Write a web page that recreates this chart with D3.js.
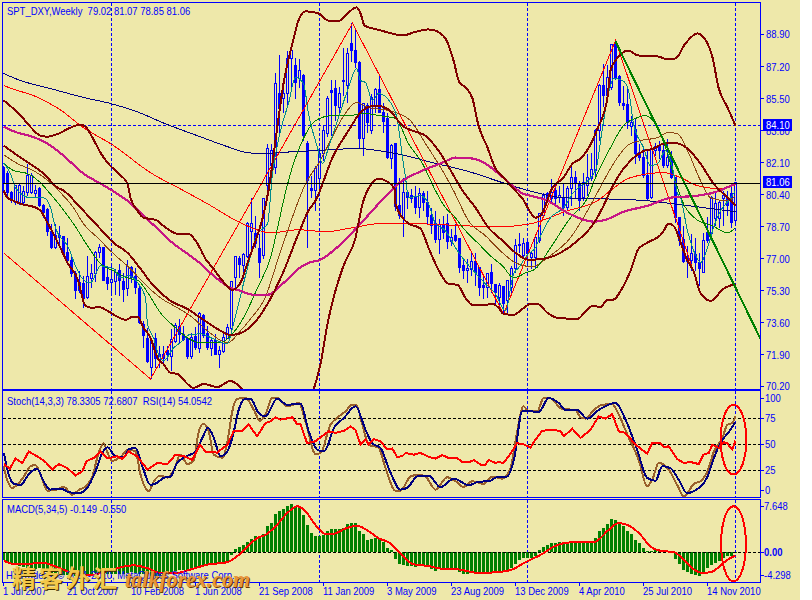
<!DOCTYPE html>
<html><head><meta charset="utf-8">
<script src="https://d3js.org/d3.v7.min.js"></script>
<style>
html,body{margin:0;padding:0;background:#fff;overflow:hidden}
svg{display:block}
.crisp *{shape-rendering:crispEdges}
text{font-family:"Liberation Sans",Arial,sans-serif;font-size:11px;fill:#0000ff;white-space:pre}
</style></head><body>
<script>
const highs=[81.94,81.68,80.62,80.93,80.99,80.88,82.05,81.57,80.93,80.83,
79.92,79.71,78.86,78.86,78.75,78.22,78.12,77.27,76.36,76.36,
76.10,77.16,76.74,77.43,77.80,77.59,76.62,76.62,76.47,76.74,
76.25,76.95,76.62,76.52,75.67,73.71,73.34,72.81,73.07,72.38,
72.38,72.38,73.28,73.60,73.81,73.44,72.81,73.07,73.39,74.19,
74.08,73.44,72.75,73.02,72.38,73.02,73.55,75.83,77.16,77.16,
77.32,78.96,80.24,79.28,78.33,80.24,83.11,83.11,86.88,87.79,
86.19,88.05,88.43,87.63,87.58,86.78,83.27,81.41,81.94,82.85,
84.07,85.66,86.46,86.46,86.09,88.16,88.21,89.49,89.22,87.52,
85.29,85.24,85.77,86.04,86.78,85.24,84.71,83.11,83.16,81.31,
81.31,80.62,80.72,80.88,80.78,80.62,80.62,79.71,79.55,79.13,
79.28,79.39,78.60,78.86,78.07,77.00,77.00,77.32,77.32,76.58,
76.10,76.25,76.74,75.67,75.72,75.57,75.88,76.62,78.07,78.38,
78.12,77.96,77.38,78.22,79.44,80.51,80.57,81.25,81.04,80.88,
80.99,80.88,82.05,81.68,81.15,81.57,82.58,82.63,83.91,86.30,
87.36,87.26,88.37,88.58,86.73,86.19,86.04,84.60,84.44,83.11,
82.85,82.74,82.90,83.16,83.27,83.16,83.38,82.74,81.31,79.23,
78.75,77.69,78.33,78.12,77.32,78.38,79.23,80.35,80.62,80.08,
80.62,80.62,80.99,81.07];
const lows=[80.62,80.25,79.97,79.87,79.87,79.87,80.35,80.46,80.30,79.76,
79.18,78.22,77.53,77.53,77.59,77.27,76.90,76.04,74.88,75.19,
74.40,74.88,75.46,75.78,77.06,75.83,75.35,75.14,75.09,75.03,
74.72,75.03,75.72,75.14,73.55,72.27,71.47,70.63,71.21,71.21,
71.42,71.58,71.05,72.54,72.54,72.65,71.69,71.69,72.17,72.00,
72.81,72.17,71.84,71.95,71.21,72.00,72.75,73.18,75.46,75.99,
75.94,77.06,77.32,77.59,75.99,77.00,80.24,81.15,81.52,83.64,
84.71,85.03,86.09,85.50,86.04,83.27,77.59,80.24,79.55,80.62,
82.21,83.48,83.53,84.33,84.60,85.66,85.29,87.42,87.10,82.85,
82.47,83.69,83.64,84.71,84.71,83.69,82.32,81.78,79.55,79.13,
78.17,79.65,79.97,79.39,79.18,79.55,78.86,78.33,77.85,77.27,
78.07,77.53,77.69,77.90,76.25,75.94,75.72,76.10,75.57,75.03,
74.88,74.93,75.19,74.61,74.40,74.08,74.13,75.14,76.25,77.32,
77.00,76.74,76.47,76.52,77.85,79.23,80.08,80.03,79.81,79.97,
79.28,79.55,79.81,80.19,79.55,80.08,80.35,81.15,81.41,83.27,
85.03,85.40,85.93,86.46,85.13,84.87,83.91,83.53,82.05,82.21,
81.31,80.08,80.19,82.47,82.32,81.84,81.84,81.25,78.91,77.69,
76.79,75.99,76.36,76.36,75.57,76.25,77.85,78.07,78.75,78.65,
78.75,79.28,78.65,78.85];
const opens=[81.84,81.52,80.51,79.97,79.97,79.97,80.51,80.51,80.46,80.72,
79.81,79.60,78.44,77.59,78.22,78.17,77.32,76.90,76.20,75.30,
75.67,74.93,75.94,76.20,77.32,77.59,75.99,75.72,75.78,76.36,
75.78,75.41,76.52,76.04,75.41,73.50,72.75,71.21,72.75,71.64,
71.90,72.11,71.84,72.59,73.39,72.96,72.75,71.84,72.86,72.22,
73.97,73.02,72.22,72.65,71.95,72.06,72.75,73.28,75.99,77.00,
76.62,77.11,78.44,78.33,77.53,77.16,80.88,81.94,81.84,85.77,
85.50,85.77,87.63,87.26,86.56,86.73,83.11,80.72,80.62,81.25,
82.58,83.64,85.93,86.04,85.03,86.40,86.19,88.43,88.05,87.42,
83.38,85.13,83.80,85.13,85.98,84.76,84.44,82.32,83.11,79.81,
79.13,80.51,80.35,80.24,79.71,80.46,79.97,79.28,78.86,78.01,
78.75,78.86,77.90,78.22,78.07,76.62,76.39,76.41,76.84,76.52,
75.57,75.46,76.25,75.62,74.93,75.51,74.77,75.46,76.47,77.69,
77.16,77.85,77.06,77.06,77.96,79.28,80.46,80.19,80.62,80.24,
80.24,79.71,80.72,81.31,80.99,80.24,80.88,81.25,81.68,83.80,
86.19,85.66,86.09,88.43,86.67,85.24,85.18,84.01,83.85,82.63,
82.37,81.41,80.24,82.74,83.01,82.74,81.94,82.37,81.31,79.18,
78.01,76.84,76.90,77.21,76.79,76.25,78.38,78.33,79.13,79.13,
80.19,80.24,80.46,79.02];
const closes=[80.99,80.51,80.08,80.88,80.88,80.57,81.41,81.41,80.62,79.81,
79.44,78.44,77.59,78.22,78.12,77.27,76.90,76.20,75.30,75.72,
74.88,76.04,76.20,77.32,77.59,75.83,75.67,75.88,76.25,75.83,
75.35,76.58,75.99,75.46,73.60,72.91,71.53,72.65,71.69,71.95,
71.69,71.90,72.70,73.44,72.96,72.70,71.84,72.81,72.27,74.08,
72.91,72.27,72.65,71.95,72.11,72.81,73.34,75.78,77.11,76.68,
77.21,78.86,78.86,77.80,76.79,80.19,82.85,82.74,86.30,84.97,
85.77,87.63,88.05,86.35,86.99,83.53,81.15,80.62,81.78,82.58,
83.80,85.50,85.82,85.13,85.77,86.46,87.89,88.05,87.42,83.38,
85.24,84.23,85.56,85.98,84.76,84.28,82.37,83.01,79.76,79.28,
80.51,80.24,80.19,79.71,80.46,79.97,79.23,78.75,78.01,78.81,
78.38,77.90,78.12,77.96,76.52,76.36,76.47,76.84,76.25,75.46,
75.46,76.20,75.67,75.19,75.57,74.61,75.83,76.47,77.69,77.75,
77.80,77.27,77.27,78.12,79.39,80.35,80.19,80.51,80.19,80.35,
79.71,80.72,81.31,81.04,80.08,81.04,81.31,81.73,83.80,86.19,
85.66,86.62,88.37,86.62,85.29,85.13,84.23,84.23,82.58,82.37,
81.41,80.19,82.85,82.95,82.74,81.94,82.37,81.31,79.18,77.96,
76.84,77.00,77.27,76.79,76.47,77.96,77.96,80.24,79.92,79.97,
80.35,79.81,78.91,81.06];

const bandUpper=[[0,85.40],[1,85.24],[4.75,84.49],[6.25,84.12],[9.25,83.53],[11,83.48],[13.75,83.64],[16.75,83.96],[19.25,84.12],[20.5,84.01],[22.25,83.43],[24.25,82.63],[26,82.10],[28.75,81.52],[31,80.99],[31.75,80.24],[33.5,79.55],[35,79.18],[38,79.07],[40,78.75],[43.5,78.33],[46.25,78.33],[48.5,77.80],[50.5,77.00],[52.5,76.47],[54.75,75.83],[57.25,75.35],[59.25,75.73],[61,76.79],[63,77.96],[64.75,79.13],[66.25,80.62],[68.5,84.07],[70,86.30],[72.25,88.43],[73.75,89.65],[75.5,90.13],[78.75,90.02],[81,89.65],[83.5,89.59],[86.25,90.07],[88.25,90.34],[89.25,90.02],[90.25,89.38],[92.25,89.22],[94.25,89.12],[96,89.01],[100,88.85],[102.5,89.01],[106.25,89.17],[108.5,89.06],[111,88.48],[112.5,87.52],[114,86.35],[115.5,86.09],[117.25,85.50],[118.75,84.07],[121,82.90],[123,81.78],[125,81.31],[127.25,80.78],[129.75,80.19],[133,79.18],[134.25,79.29],[137.25,80.78],[140,81.31],[142.25,82.05],[144.25,82.32],[147.25,83.27],[148.5,83.91],[151,85.56],[151.75,86.99],[153,87.52],[156.25,88.05],[158.5,87.79],[163.75,87.73],[166,87.58],[168,87.63],[170.5,88.43],[173.5,88.96],[174.25,88.90],[177.25,87.68],[178.75,86.09],[181,85.03],[183,84.07]];
const bandMiddle=[[0,83.01],[4.25,82.37],[10,81.52],[13.5,80.78],[15,80.62],[19.25,79.71],[23.5,78.75],[27.5,77.85],[31,77.32],[34.25,76.47],[37.5,75.57],[41.75,74.77],[46,74.34],[49.25,73.87],[53.5,73.28],[56.75,72.96],[58.75,73.02],[62.5,73.55],[66,74.61],[69.75,76.20],[73.75,78.33],[76.25,79.55],[78,80.08],[82.25,82.37],[86.25,83.80],[89.75,84.87],[93,85.13],[96.25,84.92],[100,84.01],[102.25,83.80],[105.5,83.53],[108.75,82.74],[112.25,81.52],[114.75,80.62],[118,79.71],[121.25,78.65],[124.75,77.96],[128,77.32],[131.25,76.95],[135,77.00],[139.25,77.32],[143.5,77.96],[147.5,78.86],[150,79.81],[151.75,80.62],[153.5,81.31],[156.75,82.21],[159.75,82.69],[162.5,82.85],[165,83.11],[167.5,83.16],[171,82.85],[174.25,82.05],[177.5,80.99],[181,80.24],[183,79.81]];
const bandLower=[[0,80.62],[1,80.24],[2.5,80.08],[5,79.87],[7.5,79.76],[9.25,79.55],[11,78.91],[13.75,77.80],[16,76.79],[18.5,75.94],[20.5,74.50],[22.25,74.40],[23.75,74.45],[26,74.24],[28.5,73.92],[30.5,73.76],[32.25,73.92],[33.5,73.92],[35,73.34],[36.75,72.81],[38.5,71.74],[40,71.42],[41.75,70.95],[43.5,70.89],[46,70.36],[47.5,70.15],[50,70.36],[53.5,70.20],[56.75,70.52],[59.75,70.09],[61.75,69.72],[74.25,67.86],[77.5,70.04],[79.25,71.42],[81,73.55],[82.5,74.93],[85,76.63],[88,78.12],[89.75,79.92],[92.25,81.04],[93.75,81.25],[95.5,81.15],[97.75,80.72],[98,79.92],[101,78.91],[104.25,78.60],[106.25,77.59],[108.5,76.52],[111.25,75.67],[113.5,75.62],[115.5,74.93],[117.25,74.56],[120.5,74.56],[122.25,74.61],[123.75,74.40],[125,74.08],[127.5,74.03],[129.75,74.34],[131.75,74.61],[133.5,74.61],[136,74.13],[138.5,73.87],[143.5,73.81],[145,74.08],[147.25,74.50],[149.25,74.45],[151,74.82],[152.25,74.82],[155,75.57],[156.75,76.36],[158.75,77.53],[160.5,77.80],[164.75,78.38],[166.25,78.86],[167.5,78.75],[169.75,77.59],[171,76.90],[172.5,76.36],[174.25,75.19],[176.75,74.77],[180,75.41],[183,75.67]];
const maMagenta=[[0,84.01],[3.5,83.69],[7.25,83.48],[11,83.11],[15,82.47],[20,81.52],[24.25,80.99],[28,80.51],[31,80.08],[35,79.29],[38.5,78.60],[42.5,77.80],[46,77.27],[49.25,76.74],[52.5,76.10],[56.75,75.46],[59.25,75.30],[62.5,75.09],[66,75.09],[69.75,75.67],[73.75,76.47],[76.25,76.79],[79.25,76.95],[83,77.53],[88.75,78.75],[94.75,80.14],[98.75,80.99],[104.75,81.68],[109.75,82.10],[113,82.37],[117.25,82.32],[120.5,82.05],[123.75,81.52],[127.25,80.88],[129.75,80.46],[131.75,80.35],[136,80.08],[141,79.44],[147.5,78.97],[150.5,79.07],[155,79.50],[161,79.81],[166.75,80.24],[173.5,80.35],[177.5,80.51],[183,80.99]];
const maNavy=[[0,86.83],[4.25,86.46],[11.75,86.03],[20,85.56],[26.75,85.24],[32.5,84.87],[41,84.12],[48.5,83.53],[56,82.95],[61,82.63],[66,82.58],[68.75,82.63],[78,82.74],[88.75,82.85],[93.75,82.74],[100.5,82.47],[107.25,82.10],[115.5,81.68],[125.5,80.99],[132.25,80.56],[140,80.24],[148.5,80.19],[161,80.08],[169.25,79.87],[183,79.50]];
const maRed=[[0,86.19],[3.5,85.93],[7.5,85.66],[13.75,84.97],[20,83.96],[27.5,83.01],[36.75,81.57],[45,80.62],[51,79.92],[59.25,78.91],[66.75,78.38],[73.75,78.54],[80.5,78.44],[87.25,78.65],[93.75,78.86],[103,78.86],[115.5,78.75],[123.75,78.70],[131.75,78.86],[141,79.55],[148.5,80.08],[151.75,80.62],[156.75,81.31],[165,81.57],[169.25,81.31],[173.5,80.88],[179.25,80.72],[183,80.93]];
const zigzag=[[0,77.32],[36.75,70.63],[87.25,89.49],[125,74.08],[153,88.58],[173.75,75.57]];
const maTeal=[[0,82.10],[1.75,81.52],[3,80.77],[6.75,80.24],[10,80.24],[11.75,79.71],[13,78.65],[16.25,77.59],[18,76.63],[19.75,75.94],[21.75,75.73],[24.25,76.63],[27.5,76.47],[29.25,75.99],[31.25,76.10],[33.75,75.67],[35.5,74.93],[36,73.55],[37.5,72.81],[38.75,71.95],[40,71.58],[42.5,72.27],[44.75,72.65],[46.25,72.96],[49.25,73.02],[52.5,72.75],[56,72.49],[57.25,73.34],[58.75,74.61],[61,76.52],[63.5,78.33],[66,78.86],[67.25,81.52],[69.25,83.80],[71.25,85.24],[73,86.62],[75,86.30],[76.25,84.71],[78.5,82.90],[79.75,82.05],[81.25,82.90],[83.5,84.33],[86,85.93],[88.25,87.10],[89.25,86.46],[90.5,86.35],[92.25,85.40],[93.75,85.77],[96.75,85.29],[98.5,84.33],[99.75,82.37],[100.5,81.31],[101.25,80.24],[104.25,80.35],[106.25,79.92],[108,78.86],[110.5,78.49],[113,77.59],[114.75,77.06],[117.5,76.36],[120.5,75.67],[123,75.14],[125.5,74.24],[127.5,76.20],[128.75,76.52],[131.25,77.27],[133,77.59],[133.75,77.96],[136.75,79.18],[140,79.71],[142.25,80.46],[148,81.68],[149.75,83.96],[151.25,85.77],[152.5,86.57],[154.75,86.46],[156.25,85.93],[157.5,84.17],[160,82.90],[161.75,81.94],[163.5,82.05],[165.5,82.74],[167.25,81.84],[168.5,80.46],[169.25,80.24],[171,78.49],[173.5,77.00],[174.25,76.79],[176,77.59],[177.5,78.65],[179.25,79.55],[181.25,80.08],[183,80.62]];
const maGreen=[[0,82.10],[2.5,81.68],[6,81.52],[9.25,81.04],[11,80.62],[14.75,79.66],[17.5,78.86],[21,77.69],[24.25,76.74],[27.5,76.36],[31,75.99],[33.75,75.83],[36.25,75.14],[39.25,74.13],[42.5,73.44],[46,72.81],[49.25,72.54],[54.25,72.54],[56.75,72.91],[60,73.87],[63.5,75.46],[66.75,77.06],[68.75,78.86],[70,80.08],[72.5,82.05],[74.75,83.27],[78,84.33],[82.25,84.60],[86.25,84.60],[90.5,84.71],[93.75,84.60],[98,84.44],[101.25,83.11],[104.75,82.05],[108,80.62],[110.5,79.71],[112.5,79.29],[115.5,78.49],[118.75,77.80],[122.25,77.06],[124.75,76.63],[127.5,75.99],[130.5,76.25],[133,76.47],[136.75,77.59],[141.75,79.18],[146,80.24],[148,81.31],[151.75,82.90],[155,84.07],[158.5,84.49],[160.5,84.60],[163.5,83.96],[166,82.58],[168.5,80.78],[170,79.92],[173,79.13],[177.25,78.75],[181,78.38],[183,78.65]];
const maBrown=[[0,82.53],[3.5,82.05],[7.5,81.68],[11.75,81.04],[13.75,80.62],[17.5,79.71],[20,78.86],[23.5,78.12],[27.5,77.27],[31.75,76.47],[35,75.73],[39.25,74.93],[43.5,74.40],[46.75,73.97],[51,73.18],[56,72.54],[59.25,73.18],[61.75,73.81],[65.5,74.98],[68.75,77.06],[73.75,80.08],[75.5,80.99],[78.75,82.05],[81.75,83.27],[84.75,84.49],[88.25,85.29],[91.25,85.03],[96.25,84.87],[98.75,84.71],[101.75,84.33],[105.5,83.11],[109.75,81.68],[112.5,80.62],[116.25,79.02],[120.5,78.22],[124.75,77.32],[128,76.79],[132.25,76.58],[136,77.06],[141.75,78.12],[146,79.55],[148.75,80.62],[152.5,82.05],[156,83.01],[159.25,83.27],[163.5,83.43],[166.25,83.70],[168.5,83.64],[171,82.74],[174.25,81.15],[176.75,80.24],[181,80.08],[183,80.35]];
const trendLine=[[153,88.53],[189.25,72.75]];

const stochSignal=[[0,29],[0.9,16],[2.2,8],[3.4,11],[5.1,19],[6.75,29],[8,30],[9.25,21],[11,5.5],[13,6],[15.1,9],[17.2,1.5],[18.8,6],[20.5,9.5],[22.2,19],[23.8,42],[25,51],[25.9,43],[27.2,34],[29.3,38],[31.3,45],[33,43],[34.25,21],[36.3,5],[37.6,14.5],[39.25,20],[41,18],[42.6,25.5],[44.25,40],[46,31],[47.6,35],[48.8,62],[50,70],[51.3,62],[52.6,40],[54.7,37],[56,53],[57.2,81.7],[58.4,93.8],[60.5,94.5],[62.6,83],[64.1,72.7],[65.5,78.5],[67.2,95],[68.4,95],[70.9,86.5],[73.8,89.7],[75.5,72],[78,40.7],[79.25,41.7],[81.75,69],[83.4,75.3],[85.5,81.7],[87.2,88],[88.2,88],[89.7,69],[91.3,49.7],[93.8,46.5],[95.5,27],[98,5.5],[99.25,5.5],[101.75,19],[103.8,20.9],[105.5,19],[108,6.5],[110.9,18.3],[113,14.5],[115,9],[117.2,14.5],[120,12],[122.2,19],[124.7,17],[126.75,27],[128.4,62],[130,86.5],[131.3,81.7],[133.4,81.7],[135.1,95],[136.3,95],[139.7,84],[143,83],[144.25,76],[145.5,74.7],[147.2,81],[149.25,87.5],[152.2,88.7],[153.4,81.7],[156,59],[158.8,35],[160.9,9.7],[162.2,16],[163.8,32],[166.3,25.7],[168.4,11],[170.1,0],[172.6,12],[174.25,14.5],[176,24],[177.6,43],[179.7,56],[181,68.9],[182.2,70.5],[183,76.9]];
const stochMain=[[0.1,41.7],[1.3,21],[2.6,12],[4.25,11],[6.3,21],[8.4,26.6],[10,14.5],[11.75,6.5],[14.25,7.5],[16.3,4],[18.8,3],[20.9,8],[23,24],[24.7,41.7],[26,47],[28,38.5],[30,37.5],[31.3,45],[33,46.5],[34.7,28.9],[36.75,11],[38.4,13],[40,17.7],[41.75,19],[43.4,32],[45.5,38],[48,43],[49.7,56],[51.1,66],[52.6,56],[54.25,38.5],[55.9,43],[57.2,56],[58.8,83],[60,92.9],[61.75,93.9],[63.8,80],[65.5,76.9],[68.4,93.9],[70.9,88],[74.25,89],[76.3,62.5],[78.8,44],[80.3,44],[82.6,65.7],[85.1,75.3],[88,86.5],[90.5,64],[92.2,51],[94.25,46.5],[96.3,27],[99.25,6.5],[100.9,8],[103.4,19],[106.3,20],[109.25,8.7],[112.6,17],[116.3,10.7],[118.8,14],[121.3,14.5],[123.8,19],[125.9,19],[127.6,35],[129.7,81.7],[131.3,82],[133.8,81],[136.3,94.5],[138.8,89.7],[140.5,83],[143.4,83],[145.9,74.7],[148.8,83],[153,89.7],[155.5,73.7],[158.4,45],[160.9,17.7],[163,15],[164.7,29],[166.75,27],[168.8,16],[170.9,3],[172.6,5],[176,19],[177.6,37],[179.25,51.3],[181.75,64],[183,71.5]];
const rsi=[[0.1,31],[1.6,26.6],[3,36.3],[4.7,32],[6.3,43],[8.4,38.5],[10.5,33],[12.2,25.7],[13.8,31],[16,27],[18,20],[19.7,24],[20.75,33.7],[22.6,37],[24.25,43],[25.9,36.3],[28.4,38.5],[29.7,36],[31.3,43],[33.4,38.5],[36,25.7],[38.4,32],[41,31],[43,40],[45.1,38.5],[47.2,35],[49.1,49.7],[50.5,43],[53.4,42],[56,49.7],[57.6,63],[59.7,63],[61.3,69],[63.4,57.7],[65.5,70.5],[66.75,72],[68,75.9],[69.25,73.7],[72.2,75.9],[73.4,69.5],[74.25,69.5],[75.9,51],[78,52.9],[81.3,62.5],[83,60.9],[85.1,63],[86.75,67],[88,64],[89.25,49.7],[90.5,54.5],[91.3,49.7],[92.6,55],[94.25,52.9],[95.9,45],[97.2,46],[98.4,37.9],[99.7,38.5],[100.5,41.7],[102.6,40],[104.25,41.7],[106.3,37.9],[108,36.3],[109.7,39.5],[111.3,36.9],[113.4,36.9],[114.7,32.7],[116.3,32.7],[117.6,34.7],[119.25,30.5],[120.5,30.5],[121.3,35],[123,32],[123.8,33],[125,32],[126.3,38.5],[128.4,51],[130,50],[131.75,47],[133,54.5],[134.7,63],[137.6,64],[139.25,62.5],[140.1,57.7],[142.2,65],[144.25,56],[146.75,64],[148.8,76.9],[150.5,74.7],[152.2,79],[153.8,62.5],[155.5,60.9],[158,49.7],[160.9,41],[162.2,51.3],[164.25,51],[165,47.5],[166.3,48],[168.4,36],[170.1,32],[171.75,33],[173.8,31],[175,40],[176.3,41.7],[177.2,49.7],[178.8,46.5],[180,52],[180.9,51],[182.2,45],[183,53.5]];

const macdHist=[-1.2,-1.4,-1.5,-1.8,-2,-2.2,-2.3,-2.4,-2.4,-2.3,
-2.5,-2.6,-3,-3.2,-3.2,-3.3,-3.3,-3.3,-3.4,-3.3,
-3.2,-3.2,-3.1,-3,-3,-3.1,-3.2,-3.2,-3.2,-3.1,
-3.2,-3,-2.9,-3,-3.1,-3.1,-3.2,-3.4,-3.5,-3.5,
-3.3,-3.1,-2.9,-2.7,-2.6,-2.6,-2.5,-2.4,-2.2,-2.1,
-2,-1.9,-1.8,-1.7,-1.6,-1.6,-1.6,-.4,.5,.7,
1,1.5,1.9,2.3,2.2,2.6,3.7,4.2,5.5,5.9,
6.2,6.6,6.9,6.6,6.4,5.4,3.9,2.7,2.3,2.3,
2.4,3,3.3,3.3,3.4,3.5,4,4.2,4.2,3,
2.6,1.8,1.9,2,2,1.5,.6,.25,-1,-1.7,
-1.8,-2,-2,-2.2,-1.8,-2,-2.2,-2.4,-2.7,-2.4,
-2.5,-2.4,-2.5,-2.6,-2.8,-3.1,-3.1,-2.9,-2.9,-3,
-3.2,-3,-2.9,-2.9,-2.8,-2.9,-2.7,-2.3,-1.7,-1.2,
-.9,-.8,-.8,-.6,.3,.8,1.05,1.3,1.3,1.45,
1.4,1.45,1.55,1.55,1.55,1.55,1.55,1.55,2,3.1,
3.45,4,4.75,4.65,4.2,3.7,3.1,2.6,1.8,1.3,
.6,.1,.1,.3,.2,.2,.1,0,-1,-1.7,
-2.5,-2.9,-3.2,-3.3,-3.4,-3,-2.3,-1.8,-1.6,-1.3,
-.8,-.6,-.5,-.15];
const macdSignal=[[0.1,-1.25],[2.6,-1.7],[6,-1.7],[9.7,-1.5],[13,-2.06],[17.2,-3],[21.3,-3.36],[25,-2.88],[28.4,-2.3],[32.6,-1.9],[36,-2.3],[39.25,-3],[43.4,-3],[46.75,-2.5],[51,-1.8],[56,-1.44],[58.8,-.4],[60.9,.8],[63.4,2],[65.5,2.5],[68,3.7],[70.9,5.6],[73.4,6.6],[75.5,5.9],[78,3.9],[80.5,2.6],[82.2,2.6],[85.5,3.4],[88.4,3.8],[91.3,3],[93.8,2],[96.3,1.4],[99.7,-.4],[102.2,-1.7],[106.3,-2],[109.7,-2.4],[113.8,-2.5],[118.8,-3],[123,-2.9],[127.2,-2.5],[129.7,-1.7],[131.75,-1.1],[134.25,-.4],[137.6,.8],[141.75,1.4],[147.6,1.44],[151.3,3.2],[153.8,4.2],[156.75,3.7],[159.25,2.5],[161.75,.8],[164.25,.2],[167.6,0],[170.1,-1.1],[172.6,-2.5],[174.7,-3],[177.2,-2.8],[179.7,-1.7],[181.3,-1],[183,-.5]];

const priceTicks=[88.90,87.20,85.50,83.80,82.10,80.40,78.70,77.00,75.30,73.60,71.90,70.20];
const priceMarks=[84.10,81.06];
const stochTicks=[100,75,50,25,0];
const macdTicks=[7.648,0,-4.298];
const dateIdx=[0,16,32,48,64,80,96,112,128,144,160,176];
const dateLabels=["1 Jul 2007","21 Oct 2007","10 Feb 2008","1 Jun 2008","21 Sep 2008","11 Jan 2009","3 May 2009","23 Aug 2009","13 Dec 2009","4 Apr 2010","25 Jul 2010","14 Nov 2010"];
const gridIdx=[27,79,131,183];
const titleText="SPT_DXY,Weekly  79.02 81.07 78.85 81.06";
const stochText="Stoch(14,3,3) 78.3305 72.6807  RSI(14) 54.0542";
const macdText="MACD(5,34,5) -0.149 -0.550";
const copyright="HYTrader4, © 2001-2010, MetaQuotes Software Corp.";

const W=812,H=600,L=2.5,R=760.5,BLUE="#0000ff",BG="#EEE8AA";
const P={main:[2.5,389.5],stoch:[390.5,497.5],macd:[499.5,582.5]};
const x=d3.scaleLinear().domain([0,183]).range([3.5,735.5]);
const yP=d3.scaleLinear().domain([88.9,70.2]).range([34.5,387]);
const yS=d3.scaleLinear().domain([100,0]).range([392.3,496.3]);
const yM=d3.scaleLinear().domain([7.648,-4.298]).range([499,582]);
const snap=v=>Math.floor(v)+.5;

const svg=d3.select("body").append("svg").attr("width",W).attr("height",H).attr("viewBox",`0 0 ${W} ${H}`);
svg.append("rect").attr("width",800).attr("height",H).attr("fill",BG);
const defs=svg.append("defs");
Object.entries(P).forEach(([k,[a,b]])=>{
  defs.append("clipPath").attr("id","c-"+k).append("rect").attr("x",L).attr("y",a).attr("width",R-L).attr("height",b-a);
});
const g=svg.append("g").attr("class","crisp");

Object.entries(P).forEach(([k,[a,b]])=>{
  g.append("g").selectAll("line").data(gridIdx).join("line")
   .attr("x1",d=>x(d)).attr("x2",d=>x(d)).attr("y1",a).attr("y2",b)
   .attr("stroke",BLUE).attr("stroke-dasharray","3,2");
});

const main=g.append("g").attr("clip-path","url(#c-main)");
main.append("line").attr("x1",L).attr("x2",R).attr("y1",snap(yP(84.10)+.8)).attr("y2",snap(yP(84.10)+.8)).attr("stroke",BLUE).attr("stroke-dasharray","3,2");
const bars=d3.range(opens.length);
main.append("g").selectAll("line").data(bars).join("line")
  .attr("x1",i=>x(i)).attr("x2",i=>x(i)).attr("y1",i=>yP(highs[i])).attr("y2",i=>yP(lows[i])).attr("stroke",BLUE);
main.append("g").selectAll("rect").data(bars).join("rect")
  .attr("x",i=>x(i)-1).attr("width",2)
  .attr("y",i=>yP(Math.max(opens[i],closes[i])))
  .attr("height",i=>Math.max(.6,Math.abs(yP(opens[i])-yP(closes[i]))))
  .attr("fill",i=>closes[i]>=opens[i]?BG:BLUE).attr("stroke",BLUE);
const lineP=d3.line().x(d=>x(d[0])).y(d=>yP(d[1])).curve(d3.curveMonotoneX);
const lineStraight=d3.line().x(d=>x(d[0])).y(d=>yP(d[1]));
const drawP=(data,color,w,gen=lineP)=>main.append("path").attr("d",gen(data)).attr("fill","none").attr("stroke",color).attr("stroke-width",w);
drawP(maNavy,"#000080",1);
drawP(maRed,"#ff0000",1);
drawP(zigzag,"#ff0000",1,lineStraight);
drawP(maBrown,"#8B4513",1);
drawP(maGreen,"#008000",1);
drawP(maTeal,"#008B8B",1);
drawP(maMagenta,"#C71585",2.2);
drawP(bandUpper,"#800000",2);
drawP(bandMiddle,"#800000",2);
drawP(bandLower,"#800000",2);
drawP(trendLine,"#008000",2,lineStraight);
main.append("line").attr("x1",L).attr("x2",R).attr("y1",snap(yP(81.06)+.8)).attr("y2",snap(yP(81.06)+.8)).attr("stroke","#000");

const st=g.append("g").attr("clip-path","url(#c-stoch)");
st.append("g").selectAll("line").data([75,50,25]).join("line")
  .attr("x1",L).attr("x2",R).attr("y1",d=>snap(yS(d))).attr("y2",d=>snap(yS(d))).attr("stroke","#000").attr("stroke-dasharray","3,2");
const lineS=d3.line().x(d=>x(d[0])).y(d=>yS(d[1])).curve(d3.curveMonotoneX);
const lineSr=d3.line().x(d=>x(d[0])).y(d=>yS(d[1]));
st.append("path").attr("d",lineS(stochSignal)).attr("fill","none").attr("stroke","#99602B").attr("stroke-width",2);
st.append("path").attr("d",lineS(stochMain)).attr("fill","none").attr("stroke","#000080").attr("stroke-width",2);
st.append("path").attr("d",lineSr(rsi)).attr("fill","none").attr("stroke","#ff0000").attr("stroke-width",2);

const mc=g.append("g").attr("clip-path","url(#c-macd)");
mc.append("g").selectAll("rect").data(macdHist).join("rect")
  .attr("x",(d,i)=>x(i)-1.5).attr("width",3)
  .attr("y",d=>Math.min(yM(d),yM(0))).attr("height",d=>Math.abs(yM(d)-yM(0)))
  .attr("fill","#008000");
mc.append("line").attr("x1",L).attr("x2",R).attr("y1",snap(yM(0))).attr("y2",snap(yM(0))).attr("stroke","#000").attr("stroke-dasharray","3,2");
const lineM=d3.line().x(d=>x(d[0])).y(d=>yM(d[1])).curve(d3.curveMonotoneX);
mc.append("path").attr("d",lineM(macdSignal)).attr("fill","none").attr("stroke","#ff0000").attr("stroke-width",2);

const ells=[{i:182.5,rx:3.2,a:yS(88),b:yS(21)},{i:182.5,rx:3.1,a:yM(6.6),b:yM(-4.2)}];
g.append("g").selectAll("ellipse").data(ells).join("ellipse")
  .attr("cx",d=>x(d.i)).attr("cy",d=>(d.a+d.b)/2).attr("rx",d=>x(d.rx)-x(0)).attr("ry",d=>(d.b-d.a)/2)
  .attr("fill","none").attr("stroke","#ff0000").attr("stroke-width",2);

Object.values(P).forEach(([a,b])=>{
  g.append("rect").attr("x",L).attr("y",a).attr("width",R-L).attr("height",b-a).attr("fill","none").attr("stroke",BLUE);
});

const label=(xp,y,t,dy="0.36em")=>svg.append("text").attr("class","cn").attr("x",xp).attr("y",y).attr("dy",dy).text(t);
const tickR=(y)=>g.append("line").attr("x1",R).attr("x2",R+3).attr("y1",snap(y)).attr("y2",snap(y)).attr("stroke",BLUE);
priceTicks.forEach(v=>{
  const y=Math.min(yP(v),386.5);
  tickR(y);
  label(766,y,v.toFixed(2));
});
priceMarks.forEach(v=>{
  const y=yP(v);
  svg.append("rect").attr("x",763).attr("y",Math.round(y-6)).attr("width",29).attr("height",12).attr("fill",BLUE).attr("shape-rendering","crispEdges");
  label(766,y,v.toFixed(2)).style("fill","#fff");
});
stochTicks.forEach(v=>{
  const y=Math.max(398.5,Math.min(yS(v),490));
  tickR(y);
  label(765,y,String(v));
});
macdTicks.forEach(v=>{
  const y=Math.max(506,Math.min(yM(v),575.5));
  tickR(y);
  label(764,y,v===0?"0.00":v.toFixed(3)).style("font-weight",v===0?"bold":null);
});

g.append("g").selectAll("line").data(dateIdx).join("line")
  .attr("x1",d=>x(d)).attr("x2",d=>x(d)).attr("y1",582).attr("y2",586).attr("stroke",BLUE);
dateIdx.forEach((d,k)=>label(x(d)-.5,591,dateLabels[k]));

label(7,11,titleText);
label(7,401.5,stochText);
label(7,509.5,macdText);
label(6,575,copyright);

svg.selectAll("text.cn").each(function(){
  const n=this.getComputedTextLength();
  d3.select(this).attr("textLength",n*.86).attr("lengthAdjust","spacingAndGlyphs");
});

const wm=svg.append("g");
[["#3a2a00",1,1],["#f2c84a",0,0]].forEach(([c,dx,dy])=>{
  wm.append("text").attr("x",12+dx).attr("y",587+dy)
    .style("font-family",'"Noto Sans CJK SC"').style("font-weight","bold").style("font-size","24px").style("letter-spacing","3px").style("fill",c).text("精客外汇");
});
[["#6a3a00",1,1],["#e8953a",0,0]].forEach(([c,dx,dy])=>{
  wm.append("text").attr("x",125+dx).attr("y",587+dy).attr("textLength",125).attr("lengthAdjust","spacingAndGlyphs")
    .style("font-family",'"Liberation Serif"').style("font-weight","bold").style("font-style","italic").style("font-size","23px").style("fill",c).text("talkforex.com");
});
</script>
</body></html>
